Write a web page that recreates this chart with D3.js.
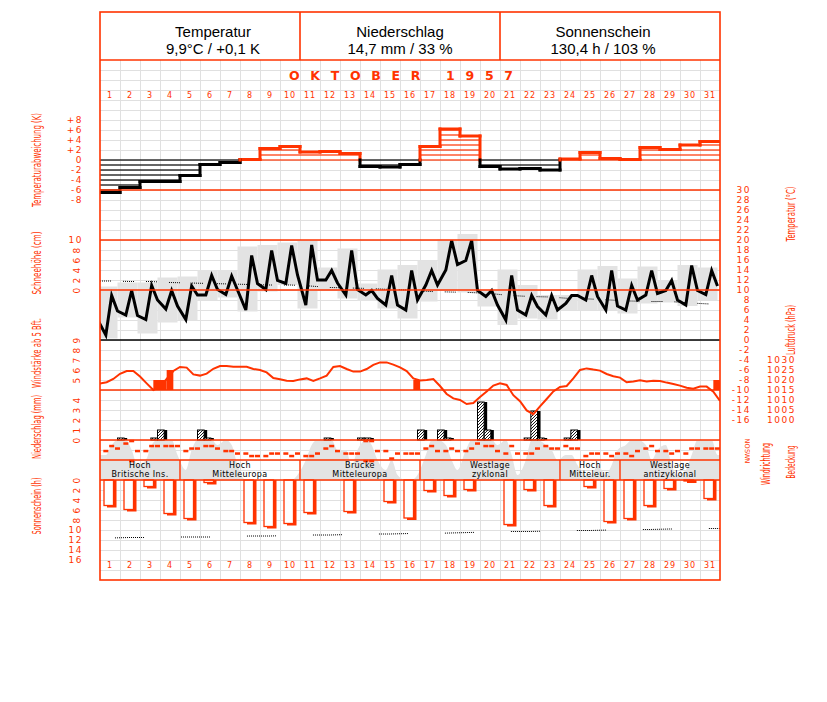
<!DOCTYPE html>
<html><head><meta charset="utf-8">
<script src="https://cdn.jsdelivr.net/npm/d3@7/dist/d3.min.js"></script>
<style>body{margin:0;background:#fff}svg{display:block}</style>
</head><body><svg id="c" width="827" height="702"></svg>
<script>
// ---------------- DATA ----------------
const days = d3.range(1, 32);
const headerTitles = ["Temperatur", "Niederschlag", "Sonnenschein"];
const headerValues = ["9,9°C / +0,1 K", "14,7 mm / 33 %", "130,4 h / 103 %"];
const monthTitle = "OKTOBER  1957";

// daily temperature anomaly (K)
const tempAnomaly = [-6.5,-5.5,-4.3,-4.3,-3.1,-0.9,-0.5,0.1,2.3,2.7, 1.6,1.7,1.3,-1.3,-1.4,-0.9,2.7,6.2,4.8,-1.3, -1.8,-1.7,-2.0,0.2,1.5,0.3,0.1,2.5,2.1,3.0, 3.7];
// temperature readings at 7, 14, 21 h (°C)
const obsHours = [7, 14, 21];
const tempPrevEvening = 4.1;
const temp7  = [1.0,5.0,4.1,6.2,4.1,9.0,9.1,6.0,10.1,11.3, 7.0,12.0,9.0,9.0,7.0,6.0,11.0,14.0,15.9,8.7, 4.0,5.0,5.0,7.3,8.0,6.0,6.0,9.0,9.9,7.0, 9.1];
const temp14 = [8.9,9.9,10.9,9.9,10.8,12.9,12.8,16.9,17.9,18.9, 19.0,13.9,17.9,9.9,12.9,13.9,13.9,19.9,19.9,9.9, 12.9,8.9,8.9,8.9,12.9,13.9,10.9,13.9,11.9,14.9, 13.9];
const temp21 = [5.8,4.9,8.0,6.8,9.0,10.1,10.0,11.3,11.9,13.0, 12.0,11.4,10.1,8.3,7.0,8.0,11.0,15.1,9.9,7.0, 6.0,6.7,6.0,8.9,8.7,6.8,8.0,9.3,8.0,9.9, 10.8];
const tempMax = [10.7,11.5,11.5,12.5,12.7,14.0,14.0,18.7,19.0,19.5, 20.0,14.5,18.3,11.3,14.1,15.0,15.9,20.1,21.2,10.0, 14.1,11.0,9.0,9.0,14.1,14.8,12.3,14.7,12.0,15.0, 14.5];
const tempMin = [0.3,4.5,1.3,3.5,4.0,8.0,8.5,5.7,9.7,11.0, 6.3,10.0,8.3,7.8,6.3,4.3,7.7,10.0,9.5,6.7, 3.0,4.3,4.1,6.0,6.0,6.0,5.3,7.3,7.5,6.8, 8.0];
const tempNormal = [11.8,11.7,11.7,11.5,11.4,11.3,11.2,11.1,11.0,11.0, 10.8,10.5,10.4,10.3,10.1,10.0,9.7,9.6,9.5,9.3, 8.9,8.7,8.6,8.3,8.2,8.0,7.8,7.7,7.7,7.4, 7.2];

// air pressure (hPa), every 8 hours from 1 Oct 0h to 1 Nov 0h
const pressure = [1018.3,1018.9,1020.5, 1023.1,1024.5,1024.5, 1021.7,1018.3,1015.0, 1016.5,1020.5,1024.5,
  1026.5,1026.2,1022.8, 1022.2,1023.2,1025.6, 1027.0,1027.0,1026.6, 1026.6,1026.6,1025.5, 1025.0,1023.8,1021.0,
  1020.4,1019.6,1019.5, 1020.3,1020.8,1019.5, 1020.8,1022.2,1026.5, 1027.0,1025.5,1024.2, 1024.2,1025.5,1027.6,
  1028.8,1028.8,1027.7, 1026.3,1024.5,1020.8, 1019.8,1020.0,1020.5, 1017.0,1013.0,1010.8, 1010.0,1008.0,1008.5,
  1011.5,1014.2,1017.2, 1018.3,1017.5,1012.4, 1009.4,1004.8,1002.9, 1006.8,1010.5,1014.3, 1016.5,1017.0,1020.8,
  1025.0,1025.8,1025.2, 1024.7,1023.0,1021.9, 1021.2,1018.9,1019.3, 1019.9,1019.2,1019.6, 1019.5,1018.7,1018.0,
  1017.2,1016.1,1015.6, 1016.7,1016.7,1014.2, 1009.5];

// wind force >= 5 Bft: [day, period(0..2), Bft]
const windStrong = [[3,2,5],[4,0,5],[4,1,6],[16,2,5],[31,2,5]];

// precipitation per observation period: [day, period, mm]
const precipObs = [[2,0,0.2],[3,2,0.2],[4,0,1.0],[6,0,1.0],[6,1,0.2],[12,1,0.2],[14,0,0.2],[14,1,0.2],
  [17,0,1.0],[18,0,1.0],[18,1,0.2],[20,0,3.8],[20,1,1.0],[22,1,0.2],[22,2,2.9],[23,0,0.2],[24,1,0.2],[24,2,1.0]];

// wind direction (degrees) at 7, 14, 21 h
const windDir = [
  [180,90,135],[45,0,180],[180,90,90],[90,90,90],[180,135,135],[90,90,135],[180,180,225],[225,270,270],
  [270,225,225],[225,270,225],[270,270,225],[135,90,180],[225,225,225],[0,0,180],[180,315,225],[225,225,225],
  [135,90,180],[180,135,180],[180,135,45],[90,90,180],[225,90,225],[225,225,135],[90,135,135],[90,135,135],
  [270,225,225],[225,270,225],[225,270,180],[135,90,180],[180,225,180],[225,135,135],[135,135,135]];
const dirTicks = [0, 90, 180, 270, 360];
const dirLabels = ["N", "O", "S", "W", "N"];

// cloud cover (octas) at 7, 14, 21 h
const cloud = [
  [5,7,8],[8,6,3],[4,7,8],[8,8,5],[2,6,8],[8,8,7],[8,7,3],[0,0,0],[0,0,0],[0,0,1],
  [4,7,8],[8,8,6],[6,3,6],[8,7,4],[2,4,1],[0,0,1],[5,8,8],[7,4,2],[6,8,8],[8,8,7],
  [8,5,1],[4,8,8],[7,6,4],[5,5,3],[1,1,3],[1,3,6],[7,8,8],[7,4,6],[7,3,1],[2,5,8],[8,8,5]];

// weather types
const wtStart = [1, 5, 11, 17, 24, 27];
const wtEnd   = [4, 10, 16, 23, 26, 31];
const wtLine1 = ["Hoch", "Hoch", "Brücke", "Westlage", "Hoch", "Westlage"];
const wtLine2 = ["Britische Ins.", "Mitteleuropa", "Mitteleuropa", "zyklonal", "Mitteleur.", "antizyklonal"];

// sunshine duration (h)
const sunshine = [5.1,5.9,1.3,6.7,7.7,0.5,0,8.5,9.3,8.7, 6.5,0,6.3,0,4.3,7.6,2.1,3.1,1.9,0, 8.9,1.9,5.1,0,1.3,8.3,7.7,5.1,1.7,0.2, 3.7];
const sunPossible = [11.6,11.5,11.5,11.4,11.4,11.4,11.3,11.2,11.2,11.1, 11.0,11.0,10.9,10.8,10.8,10.7,10.7,10.6,10.5,10.4, 10.3,10.3,10.2,10.1,10.1,10.0,9.9,9.9,9.8,9.8, 9.7];

// tick labels
const anomTicks = [8, 6, 4, 2, 0, -2, -4, -6, -8];
const tempTicks = [30,28,26,24,22,20,18,16,14,12,10,8,6,4,2,0,-2,-4,-6,-8,-10,-12,-14,-16];
const pressTicks = [1030, 1025, 1020, 1015, 1010, 1005, 1000];
const snowTicks = [10, 8, 6, 4, 2, 0];
const windTicks = [9, 8, 7, 6, 5];
const precipTicks = [4, 3, 2, 1, 0];
const sunTicks = [0, 2, 4, 6, 8, 10, 12, 14, 16];

// ---------------- CHART ----------------
const RED = "#ff3300", GRID = "#e0e0e0", GRAY = "#e3e3e3";
const NUM = "DejaVu Sans", NARROW = "'Liberation Sans Narrow','DejaVu Sans Condensed',sans-serif";
const svg = d3.select("#c");
svg.append("rect").attr("width", 827).attr("height", 702).attr("fill", "#fff");

const L = 100, R = 720, TOP = 12, HEAD = 60, BOT = 580;
const x = d3.scaleLinear().domain([0, 31]).range([L, R]);
const yAnom = d3.scaleLinear().domain([0, 8]).range([160, 120]);
const yT = d3.scaleLinear().domain([0, 30]).range([340, 190]);
const ySnow = d3.scaleLinear().domain([0, 10]).range([290, 240]);
const yP = d3.scaleLinear().domain([1000, 1030]).range([420, 360]);
const yW = d3.scaleLinear().domain([4, 9]).range([390, 340]);
const yR = d3.scaleLinear().domain([0, 4]).range([440, 400]);
const yDir = d3.scaleLinear().domain([0, 360]).range([441, 461]);
const yC = d3.scaleLinear().domain([0, 8]).range([480, 440]);
const yS = d3.scaleLinear().domain([0, 16]).range([480, 560]);

const defs = svg.append("defs");
defs.append("clipPath").attr("id", "plot").append("rect").attr("x", L).attr("y", HEAD).attr("width", R - L).attr("height", BOT - HEAD);
const pat = defs.append("pattern").attr("id", "hatch").attr("patternUnits", "userSpaceOnUse").attr("width", 3).attr("height", 3);
pat.append("rect").attr("width", 3).attr("height", 3).attr("fill", "#fff");
pat.append("path").attr("d", "M-1,1 l2,-2 M0,3 l3,-3 M2,4 l2,-2").attr("stroke", "#000").attr("stroke-width", 0.9);

// grid
const grid = svg.append("g").attr("stroke", GRID).attr("stroke-width", 1).attr("shape-rendering", "crispEdges");
grid.selectAll("line.v").data(d3.range(1, 31)).join("line").attr("class", "v")
  .attr("x1", d => x(d)).attr("x2", d => x(d)).attr("y1", HEAD).attr("y2", BOT);
grid.selectAll("line.h").data(d3.range(HEAD + 10, BOT, 10)).join("line").attr("class", "h")
  .attr("x1", L).attr("x2", R).attr("y1", d => d).attr("y2", d => d);

const plot = svg.append("g").attr("clip-path", "url(#plot)");

// cloud cover area
const cloudPts = [];
cloud.forEach((arr, i) => arr.forEach((v, k) => cloudPts.push({ t: i + obsHours[k] / 24, v })));
const cloudFull = [{ t: 0, v: cloudPts[0].v }, ...cloudPts, { t: 31, v: cloudPts[cloudPts.length - 1].v }];
plot.append("path").datum(cloudFull).attr("fill", GRAY)
  .attr("d", d3.area().x(d => x(d.t)).y0(yC(0)).y1(d => yC(d.v)).curve(d3.curveMonotoneX));

// temperature min/max boxes (21h-21h)
plot.selectAll("rect.tbox").data(days).join("rect").attr("class", "tbox")
  .attr("x", d => x(d - 1 - 3 / 24)).attr("width", d => x(d - 1 + 21 / 24) - x(d - 1 - 3 / 24))
  .attr("y", d => yT(tempMax[d - 1])).attr("height", d => yT(tempMin[d - 1]) - yT(tempMax[d - 1]))
  .attr("fill", GRAY);

// temperature anomaly hatch
const hatchSegs = [];
tempAnomaly.forEach((v, i) => {
  const s = v >= 0 ? 1 : -1;
  for (let k = 0; k <= Math.floor(Math.abs(v)); k++) hatchSegs.push({ i, lv: s * k, col: v >= 0 ? RED : "#000" });
});
plot.selectAll("line.hatchA").data(hatchSegs).join("line").attr("class", "hatchA")
  .attr("x1", d => x(d.i)).attr("x2", d => x(d.i + 1)).attr("y1", d => yAnom(d.lv)).attr("y2", d => yAnom(d.lv))
  .attr("stroke", d => d.col).attr("stroke-width", 1.2);
// anomaly outline (step)
const outSegs = [];
tempAnomaly.forEach((v, i) => {
  outSegs.push({ x1: x(i), x2: x(i + 1), y1: yAnom(v), y2: yAnom(v), col: v >= 0 ? RED : "#000" });
  if (i > 0) {
    const p = tempAnomaly[i - 1];
    if ((p >= 0) === (v >= 0)) outSegs.push({ x1: x(i), x2: x(i), y1: yAnom(p), y2: yAnom(v), col: v >= 0 ? RED : "#000" });
    else {
      outSegs.push({ x1: x(i), x2: x(i), y1: yAnom(p), y2: yAnom(0), col: p >= 0 ? RED : "#000" });
      outSegs.push({ x1: x(i), x2: x(i), y1: yAnom(0), y2: yAnom(v), col: v >= 0 ? RED : "#000" });
    }
  }
});
plot.selectAll("line.outA").data(outSegs).join("line").attr("class", "outA")
  .attr("x1", d => d.x1).attr("x2", d => d.x2).attr("y1", d => d.y1).attr("y2", d => d.y2)
  .attr("stroke", d => d.col).attr("stroke-width", 3).attr("stroke-linecap", "square");

// structural lines
const hl = svg.append("g");
const redLines = [HEAD, yAnom(-6), yT(20), yT(10), yW(4), yR(0), yDir(0) + 19, yS(0)];
hl.selectAll("line").data(redLines).join("line").attr("x1", L).attr("x2", R)
  .attr("y1", d => d).attr("y2", d => d).attr("stroke", RED).attr("stroke-width", 1.4);
hl.append("line").attr("x1", L).attr("x2", R).attr("y1", yT(0)).attr("y2", yT(0)).attr("stroke", "#000").attr("stroke-width", 1.4);

// normal temperature (dotted)
const normPts = [{ t: 0, v: tempNormal[0] }, ...tempNormal.map((v, i) => ({ t: i + 0.5, v })), { t: 31, v: tempNormal[30] }];
plot.append("path").datum(normPts).attr("fill", "none").attr("stroke", "#000").attr("stroke-width", 1)
  .attr("stroke-dasharray", "1 1 1 1 1 1 1 1 1 1 1 12")
  .attr("d", d3.line().x(d => x(d.t)).y(d => yT(d.v)));

// temperature line
const tPts = [{ t: -3 / 24, v: tempPrevEvening }];
days.forEach((d, i) => {
  tPts.push({ t: i + 7 / 24, v: temp7[i] });
  tPts.push({ t: i + 14 / 24, v: temp14[i] });
  tPts.push({ t: i + 21 / 24, v: temp21[i] });
});
plot.append("path").datum(tPts).attr("fill", "none").attr("stroke", "#000").attr("stroke-width", 3)
  .attr("stroke-linejoin", "miter").attr("d", d3.line().x(d => x(d.t)).y(d => yT(d.v)));

// precipitation bars
const pG = plot.append("g");
const pData = precipObs.map(([d, p, mm]) => ({ t0: d - 1 + p / 3 - 3 / 24, t1: d - 1 + (p + 1) / 3 - 3 / 24, mm }));
pG.selectAll("rect.sh").data(pData).join("rect").attr("class", "sh")
  .attr("x", d => x(d.t0) + 3).attr("width", d => x(d.t1) - x(d.t0))
  .attr("y", d => yR(d.mm)).attr("height", d => yR(0) - yR(d.mm)).attr("fill", "#000");
pG.selectAll("rect.bd").data(pData).join("rect").attr("class", "bd")
  .attr("x", d => x(d.t0)).attr("width", d => x(d.t1) - x(d.t0))
  .attr("y", d => yR(d.mm)).attr("height", d => yR(0) - yR(d.mm))
  .attr("fill", "url(#hatch)").attr("stroke", "#000").attr("stroke-width", 1);

// pressure line
const presPts = pressure.map((v, i) => ({ t: i / 3, v }));
plot.append("path").datum(presPts).attr("fill", "none").attr("stroke", RED).attr("stroke-width", 2)
  .attr("d", d3.line().x(d => x(d.t)).y(d => yP(d.v)));

// wind >= 5 Bft bars
plot.selectAll("rect.wind").data(windStrong).join("rect").attr("class", "wind")
  .attr("x", d => x(d[0] - 1 + d[1] / 3)).attr("width", x(1 / 3) - x(0))
  .attr("y", d => yW(d[2])).attr("height", d => yW(4) - yW(d[2])).attr("fill", RED);

// wind direction dots
const dirPts = [];
windDir.forEach((arr, i) => arr.forEach((v, k) => {
  dirPts.push({ t: i + obsHours[k] / 24, v });
  if (v === 0) dirPts.push({ t: i + obsHours[k] / 24, v: 360 });
}));
plot.selectAll("rect.dir").data(dirPts).join("rect").attr("class", "dir")
  .attr("x", d => x(d.t) - 2.5).attr("y", d => yDir(d.v) - 1.2).attr("width", 5).attr("height", 2.5).attr("fill", RED);

// weather type band
const wt = svg.append("g");
wt.selectAll("line").data(wtStart.slice(1)).join("line")
  .attr("x1", d => x(d - 1)).attr("x2", d => x(d - 1)).attr("y1", yC(4)).attr("y2", yC(0))
  .attr("stroke", RED).attr("stroke-width", 1.4);
const wtCx = (d, i) => (x(d - 1) + x(wtEnd[i])) / 2;
const wtStyle = s => s.attr("text-anchor", "middle").attr("font-family", NUM).attr("font-size", 8)
  .attr("letter-spacing", 0.4).attr("fill", "#000");
wt.selectAll("text.l1").data(wtStart).join("text").attr("class", "l1").call(wtStyle)
  .attr("x", wtCx).attr("y", 467.6).text((d, i) => wtLine1[i]);
wt.selectAll("text.l2").data(wtStart).join("text").attr("class", "l2").call(wtStyle)
  .attr("x", wtCx).attr("y", 477.2).text((d, i) => wtLine2[i]);

// sunshine bars
const sG = plot.append("g");
const sData = sunshine.map((v, i) => ({ i, v })).filter(d => d.v > 0);
sG.selectAll("rect.sh").data(sData).join("rect").attr("class", "sh")
  .attr("x", d => x(d.i + 0.2) + 3).attr("width", d => x(d.i + 0.675) - x(d.i + 0.2))
  .attr("y", yS(0)).attr("height", d => yS(d.v) - yS(0) + 2).attr("fill", RED);
sG.selectAll("rect.bd").data(sData).join("rect").attr("class", "bd")
  .attr("x", d => x(d.i + 0.2)).attr("width", d => x(d.i + 0.675) - x(d.i + 0.2))
  .attr("y", yS(0)).attr("height", d => yS(d.v) - yS(0))
  .attr("fill", "#fff").attr("stroke", RED).attr("stroke-width", 1.3);
// possible sunshine dotted
const possPts = [{ t: 0, v: sunPossible[0] }, ...sunPossible.map((v, i) => ({ t: i + 0.5, v })), { t: 31, v: sunPossible[30] }];
const dash = d3.range(14).map(() => "1 1").join(" ") + " 1 37";
plot.append("path").datum(possPts).attr("fill", "none").attr("stroke", "#000").attr("stroke-width", 1)
  .attr("stroke-dasharray", dash).attr("stroke-dashoffset", 51)
  .attr("d", d3.line().x(d => x(d.t)).y(d => yS(d.v)));

// frame and header
const fr = svg.append("g").attr("fill", "none").attr("stroke", RED).attr("stroke-width", 1.6);
fr.append("rect").attr("x", L).attr("y", TOP).attr("width", R - L).attr("height", BOT - TOP);
fr.selectAll("line").data([300, 500]).join("line").attr("x1", d => d).attr("x2", d => d).attr("y1", TOP).attr("y2", HEAD);
const headCenters = [213, 400, 603];
const headStyle = s => s.attr("text-anchor", "middle").attr("font-family", "'Liberation Sans',Arial,sans-serif")
  .attr("font-size", 15).attr("fill", "#000");
svg.selectAll("text.ht").data(headerTitles).join("text").attr("class", "ht").call(headStyle)
  .attr("x", (d, i) => headCenters[i]).attr("y", 37).text(d => d);
svg.selectAll("text.hv").data(headerValues).join("text").attr("class", "hv").call(headStyle)
  .attr("x", (d, i) => headCenters[i]).attr("y", 53.5).text(d => d);

// month title
svg.append("text").attr("x", 289).attr("y", 79.5).attr("textLength", 224).attr("lengthAdjust", "spacing")
  .attr("font-family", NUM).attr("font-size", 12.5).attr("font-weight", "bold").attr("fill", RED).text(monthTitle);

// day labels
[98, 568].forEach(yy => {
  svg.append("g").selectAll("text").data(days).join("text")
    .attr("x", d => x(d - 0.5)).attr("y", yy).attr("text-anchor", "middle")
    .attr("font-family", NUM).attr("font-size", 8).attr("letter-spacing", 0.8).attr("fill", RED).text(d => d);
});

// ---- axes ----
function styleAxis(g) {
  g.select(".domain").remove();
  g.selectAll(".tick line").remove();
  g.attr("font-family", NUM).attr("font-size", 9).selectAll("text").attr("fill", RED).attr("letter-spacing", 1.5);
}
svg.append("g").attr("transform", "translate(751,0)")
  .call(d3.axisLeft(yT).tickValues(tempTicks).tickSize(0).tickPadding(0).tickFormat(d => String(d))).call(styleAxis);
svg.append("g").attr("transform", "translate(796,0)")
  .call(d3.axisLeft(yP).tickValues(pressTicks).tickSize(0).tickPadding(0).tickFormat(d => String(d))).call(styleAxis);
svg.append("g").attr("transform", "translate(83,0)")
  .call(d3.axisLeft(yAnom).tickValues(anomTicks).tickSize(0).tickPadding(0).tickFormat(d => d > 0 ? "+" + d : String(d))).call(styleAxis);

function leftTicks(vals, scale) {
  const g = svg.append("g").attr("font-family", NUM).attr("font-size", 9).attr("fill", RED).attr("letter-spacing", 1.5);
  g.selectAll("text").data(vals).join("text")
    .attr("transform", d => String(d).length === 1 ? `translate(77,${scale(d)}) rotate(-90)` : `translate(83,${scale(d)})`)
    .attr("text-anchor", d => String(d).length === 1 ? "middle" : "end")
    .attr("dy", d => String(d).length === 1 ? "0.36em" : "0.34em").text(d => d);
}
leftTicks(snowTicks, ySnow);
leftTicks(windTicks, yW);
leftTicks(precipTicks, yR);
leftTicks(sunTicks, yS);

// wind direction letters
svg.append("g").selectAll("text").data(dirTicks).join("text")
  .attr("transform", d => `translate(747,${yDir(d)}) rotate(90)`).attr("text-anchor", "middle").attr("dy", "0.35em")
  .attr("font-family", NUM).attr("font-size", 6.5).attr("fill", RED).text((d, i) => dirLabels[i]);

// axis titles (rotated)
const titles = [
  { t: "Temperaturabweichung (K)", x: 36, y: 160, len: 94 },
  { t: "Schneehöhe (cm)", x: 36, y: 263, len: 63 },
  { t: "Windstärke ab 5 Bft.", x: 36, y: 353, len: 70 },
  { t: "Niederschlag (mm)", x: 36, y: 427, len: 64 },
  { t: "Sonnenschein (h)", x: 36, y: 506, len: 57 },
  { t: "Temperatur (°C)", x: 790, y: 214, len: 55 },
  { t: "Luftdruck (hPa)", x: 790, y: 330, len: 50 },
  { t: "Windrichtung", x: 765, y: 464, len: 42 },
  { t: "Bedeckung", x: 790, y: 462, len: 33 }
];
svg.append("g").selectAll("text").data(titles).join("text")
  .attr("transform", d => `translate(${d.x + 5},${d.y}) rotate(-90)`)
  .attr("text-anchor", "middle").attr("font-family", NARROW).attr("font-size", 13).attr("fill", RED)
  .attr("textLength", d => d.len).attr("lengthAdjust", "spacingAndGlyphs").text(d => d.t);
</script></body></html>
